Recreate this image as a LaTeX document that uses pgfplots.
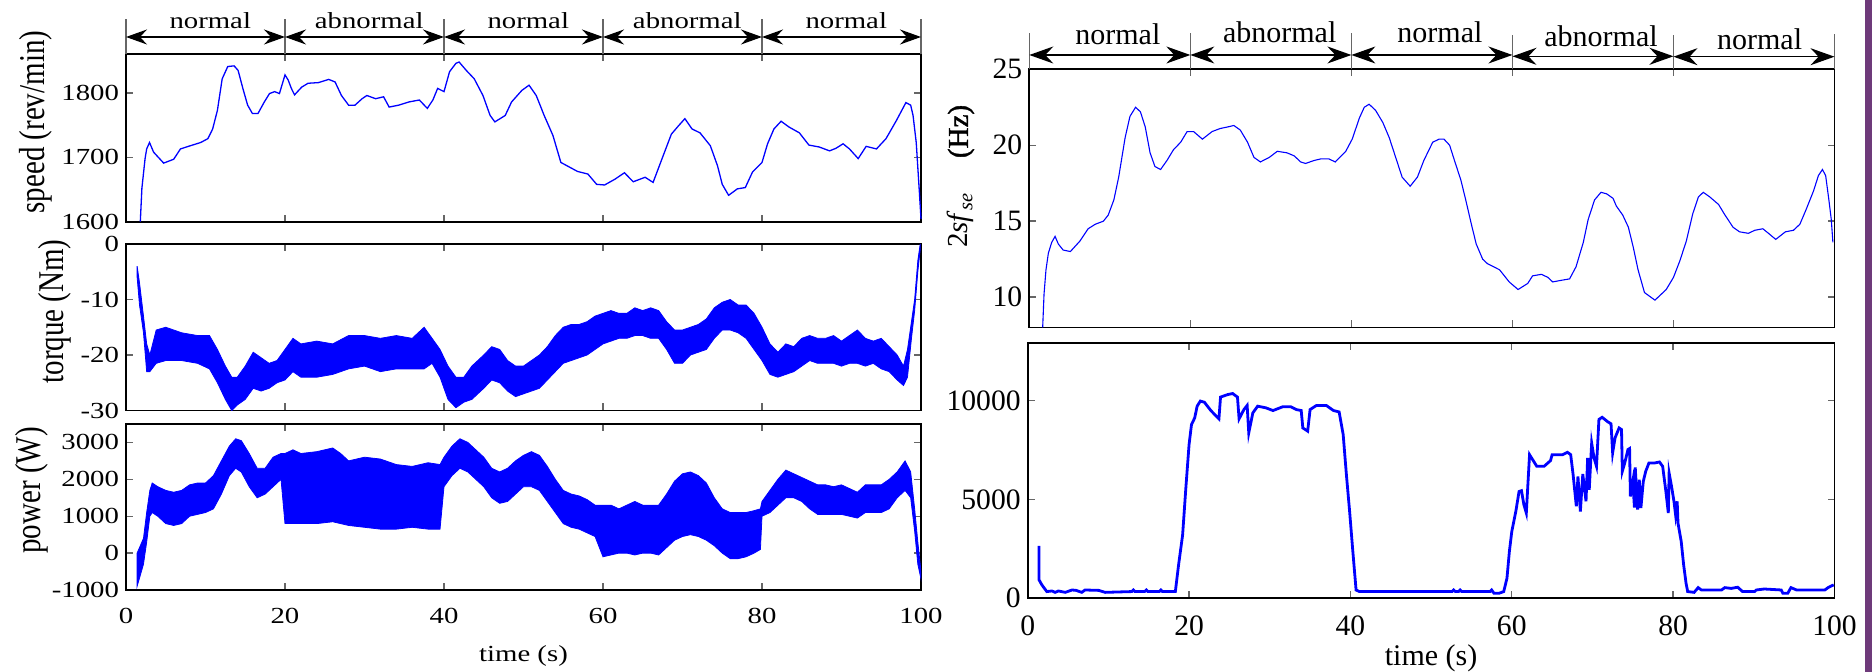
\documentclass[border=0pt]{standalone}
\usepackage{fontspec}
\setmainfont{Liberation Serif}
\newfontfamily\lfont{Liberation Serif}[FakeStretch=1.25]
\newfontfamily\hzfont{Liberation Serif}[FakeBold=1.5]
\usepackage{graphicx}
\usepackage{pgfplots}
\pgfplotsset{compat=1.18}
\usetikzlibrary{arrows.meta}
\definecolor{edgepurple}{RGB}{110,58,122}

\pgfplotsset{
  panel/.style={
    scale only axis, xmin=0, xmax=100, xtick={0,20,40,60,80,100},
    axis line style={line width=0.9pt},
    tick align=inside, major tick length=3.5pt,
    every tick/.append style={black!60, line width=0.7pt},
    /pgf/number format/assume math mode=true,
    /pgf/number format/1000 sep={},
    scaled y ticks=false, scaled x ticks=false,
  },
  leftp/.style={panel, width=397.5pt,
    tick label style={font=\lfont\fontsize{11.5}{13}\selectfont},
    xticklabel style={yshift=-5.5pt},
    ylabel style={font=\fontsize{14.5}{16}\selectfont, anchor=center},
    xlabel style={font=\lfont\fontsize{11.5}{13}\selectfont, at={(axis description cs:0.5,0)}, anchor=center, yshift=-33pt},
  },
  rightp/.style={panel,
    tick label style={font=\fontsize{14.8}{16}\selectfont},
    xticklabel style={yshift=-5pt},
    xlabel style={font=\fontsize{15}{17}\selectfont, at={(axis description cs:0.5,0)}, anchor=center, yshift=-30pt},
  },
}
\tikzset{
  sepl/.style={black!60, line width=0.7pt},
  darL/.style={line width=0.7pt, {Stealth[length=10.5pt,width=7.5pt,inset=3.5pt]}-{Stealth[length=10.5pt,width=7.5pt,inset=3.5pt]}},
  darR/.style={line width=0.7pt, {Stealth[length=12pt,width=8.5pt,inset=4pt]}-{Stealth[length=12pt,width=8.5pt,inset=4pt]}},
}

\begin{document}
\begin{tikzpicture}
\useasboundingbox (0,0) rectangle (937pt,-336pt);
\fill[edgepurple] (932.5pt,0) rectangle (936pt,-336pt);

% ---------------- speed ----------------
\begin{axis}[leftp, at={(63pt,-27.15pt)}, anchor=north west, height=83.7pt,
  ymin=1600, ymax=1860, ytick={1600,1700,1800}, xticklabels={},
  ylabel={\scalebox{1}[1.25]{speed (rev/min)}},
  ylabel style={at={(axis description cs:-0.113,0.595)}}, clip=false]
\addplot[blue, line width=0.65pt] coordinates {
(1.8,1600) (2.0,1652) (2.4,1698) (2.6,1713) (2.96,1723) (3.47,1708) (4.74,1691) (6.0,1697) (6.85,1713) (8.1,1718) (9.4,1723) (10.3,1729) (10.9,1744) (11.5,1773) (12.1,1822) (12.8,1841) (13.6,1842) (14.1,1835) (14.7,1807) (15.3,1781) (15.9,1768) (16.6,1768) (17.4,1786) (18.05,1799) (18.7,1802) (19.3,1799) (20.0,1828) (20.4,1820) (20.8,1807) (21.2,1797) (22.1,1809) (22.9,1815) (24.2,1816) (25.5,1821) (26.3,1817) (27.1,1796) (28.0,1781) (28.8,1781) (29.7,1791) (30.3,1796) (31.4,1791) (32.4,1794) (33.1,1778) (34.3,1781) (35.6,1786) (36.9,1789) (37.9,1776) (38.6,1789) (39.2,1807) (40.0,1802) (40.7,1833) (41.5,1846) (41.9,1848) (42.8,1835) (43.8,1822) (44.9,1796) (45.8,1765) (46.4,1755) (47.7,1765) (48.5,1786) (49.8,1804) (50.7,1812) (51.6,1796) (52.6,1765) (53.7,1734) (54.7,1692) (55.6,1686) (56.8,1678) (58.1,1674) (59.2,1658) (60.2,1657) (61.5,1666) (62.7,1676) (63.8,1662) (65.3,1669) (66.3,1661) (67.4,1697) (68.6,1736) (69.5,1749) (70.3,1760) (71.2,1744) (72.2,1738) (73.5,1718) (74.4,1687) (75.0,1658) (75.8,1641) (76.9,1651) (77.9,1653) (78.8,1677) (80.0,1692) (80.7,1721) (81.5,1744) (82.4,1756) (83.4,1747) (84.7,1738) (85.9,1719) (87.2,1716) (88.5,1710) (89.3,1714) (90.2,1721) (91.0,1713) (92.1,1698) (93.1,1717) (94.4,1713) (95.6,1729) (96.9,1757) (98.1,1785) (98.7,1781) (99.0,1765) (99.4,1723) (99.8,1645) (100,1604)
};
% phase separators, arrows and labels
\draw[sepl] (axis cs:0,1860) -- ([yshift=17.5pt]axis cs:0,1860);
\draw[sepl] (axis cs:20,1860) -- ([yshift=17.5pt]axis cs:20,1860);
\draw[sepl] (axis cs:40,1860) -- ([yshift=17.5pt]axis cs:40,1860);
\draw[sepl] (axis cs:60,1860) -- ([yshift=17.5pt]axis cs:60,1860);
\draw[sepl] (axis cs:80,1860) -- ([yshift=17.5pt]axis cs:80,1860);
\draw[sepl] (axis cs:100,1860) -- ([yshift=17.5pt]axis cs:100,1860);
\draw[darL] ([yshift=8.65pt]axis cs:0,1860) -- ([yshift=8.65pt]axis cs:20,1860);
\draw[darL] ([yshift=8.65pt]axis cs:20,1860) -- ([yshift=8.65pt]axis cs:40,1860);
\draw[darL] ([yshift=8.65pt]axis cs:40,1860) -- ([yshift=8.65pt]axis cs:60,1860);
\draw[darL] ([yshift=8.65pt]axis cs:60,1860) -- ([yshift=8.65pt]axis cs:80,1860);
\draw[darL] ([yshift=8.65pt]axis cs:80,1860) -- ([yshift=8.65pt]axis cs:100,1860);
\node[anchor=base, inner sep=0pt, font=\lfont\fontsize{11.5}{13}\selectfont] at ([yshift=12.85pt]axis cs:10.6,1860) {normal};
\node[anchor=base, inner sep=0pt, font=\lfont\fontsize{11.5}{13}\selectfont] at ([yshift=12.85pt]axis cs:30.6,1860) {abnormal};
\node[anchor=base, inner sep=0pt, font=\lfont\fontsize{11.5}{13}\selectfont] at ([yshift=12.85pt]axis cs:50.6,1860) {normal};
\node[anchor=base, inner sep=0pt, font=\lfont\fontsize{11.5}{13}\selectfont] at ([yshift=12.85pt]axis cs:70.6,1860) {abnormal};
\node[anchor=base, inner sep=0pt, font=\lfont\fontsize{11.5}{13}\selectfont] at ([yshift=12.85pt]axis cs:90.6,1860) {normal};
\end{axis}

% ---------------- torque ----------------
\begin{axis}[leftp, at={(63pt,-122pt)}, anchor=north west, height=83.25pt,
  ymin=-30, ymax=0, ytick={-30,-20,-10,0}, xticklabels={},
  ylabel={\scalebox{1}[1.25]{torque (Nm)}},
  ylabel style={at={(axis description cs:-0.09,0.595)}}]
\addplot[blue, fill=blue, line width=0.4pt] coordinates {
(1.4,-4) (1.7,-7) (2.2,-13) (2.6,-18) (3.0,-20) (3.8,-15.5) (5,-15) (7,-16) (9,-16.5) (10.5,-16.5) (11.5,-19) (12.5,-22) (13.3,-24) (14,-24) (15,-22) (16,-19.5) (17,-20.5) (18,-21.5) (19,-21) (20,-19) (21,-17) (22,-18) (24,-17.5) (26,-18) (28,-16.5) (30,-16.5) (32,-17) (34,-16.5) (36,-17) (37.5,-15) (38.5,-17) (39.5,-19) (40.5,-22) (41.5,-24) (42.5,-24) (43.5,-22) (45,-20) (46,-18.5) (47,-19) (48,-21) (49,-22) (50,-22) (51,-21) (52,-20) (53,-18.5) (54,-16.5) (55,-15) (56,-14.5) (57,-14.5) (58,-14) (59,-13) (60,-12.5) (61,-12) (62,-12.5) (63,-12.5) (64,-11.5) (65,-12) (66,-11.5) (67,-12) (68,-14) (69,-15.5) (70,-15.5) (71,-15) (72,-14.5) (73,-13.5) (74,-11.5) (75,-10.5) (76,-10) (77,-11) (78,-11) (79,-12.5) (80,-15) (81,-18) (82,-19.5) (83,-18) (84,-18.5) (85,-17) (86,-16.5) (87,-17) (88,-17) (89,-16.5) (90,-17.5) (91,-16.5) (92,-15.5) (93,-17) (94,-17.5) (95,-17) (96,-18.5) (97,-20) (97.8,-22) (98.3,-19) (98.8,-14) (99.2,-10) (99.6,-3) (99.9,0)
(99.9,-1) (99.6,-5) (99.2,-12) (98.8,-17) (98.3,-24) (97.8,-25.5) (97,-24.5) (96,-23) (95,-22.5) (94,-21.5) (93,-22) (92,-21.5) (91,-21.5) (90,-22) (89,-21.5) (88,-21.5) (87,-21.5) (86,-21) (85,-22) (84,-23) (83,-23.5) (82,-24) (81,-23.5) (80,-21) (79,-19) (78,-17) (77,-16) (76,-15.5) (75,-15.5) (74,-17) (73,-19) (72,-19.5) (71,-20) (70,-21.5) (69,-21.5) (68,-19) (67,-17) (66,-17) (65,-16.5) (64,-16.5) (63,-17) (62,-17) (61,-17.5) (60,-18) (59,-19) (58,-20) (57,-20.5) (56,-21) (55,-21.5) (54,-23) (53,-24.5) (52,-26) (51,-26.5) (50,-27) (49,-27.5) (48,-26.5) (47,-25) (46,-24.5) (45,-26) (43.5,-28) (42.5,-28.5) (41.5,-29.5) (40.5,-28) (39.5,-24) (38.5,-21.5) (37.5,-22.5) (36,-22.5) (34,-22.5) (32,-23) (30,-22) (28,-22.5) (26,-23.5) (24,-24) (22,-24) (21,-23) (20,-24.5) (19,-25) (18,-26) (17,-26.5) (16,-26) (15,-28) (14,-29) (13.3,-30) (12.5,-28) (11.5,-25) (10.5,-22.5) (9,-21.5) (7,-21) (5,-21) (3.8,-21.5) (3.0,-23) (2.6,-23) (2.2,-16) (1.7,-11) (1.4,-6)
} -- cycle;
\end{axis}

% ---------------- power ----------------
\begin{axis}[leftp, at={(63pt,-212pt)}, anchor=north west, height=83pt,
  ymin=-1000, ymax=3500, ytick={-1000,0,1000,2000,3000},
  ylabel={\scalebox{1}[1.25]{power (W)}},
  ylabel style={at={(axis description cs:-0.118,0.6)}}, xlabel={time (s)}]
\addplot[blue, fill=blue, line width=0.4pt] coordinates {
(1.4,0) (1.8,200) (2.2,400) (2.6,1100) (3.0,1700) (3.3,1900) (4,1800) (5,1700) (6,1650) (7,1700) (8,1850) (9,1900) (10,1900) (11,2100) (12,2500) (13,2900) (13.8,3100) (14.5,3050) (15.5,2700) (16.5,2300) (17.5,2300) (18.5,2600) (19.5,2700) (20,2700) (21,2800) (22,2700) (24,2750) (26,2850) (27,2700) (28,2500) (30,2600) (32,2550) (34,2400) (36,2350) (38,2450) (39.5,2400) (40,2600) (41,2900) (42,3100) (43,3000) (44,2800) (45,2600) (46,2300) (47,2200) (48,2300) (49,2500) (50,2650) (51,2750) (52,2650) (53,2350) (54,2000) (55,1700) (56,1600) (57,1550) (58,1450) (59,1300) (60,1300) (61,1300) (62,1200) (63,1300) (64,1400) (65,1300) (66,1300) (67,1300) (68,1600) (69,1950) (70,2150) (71,2200) (72,2100) (73,1900) (74,1500) (75,1200) (76,1100) (77,1100) (78,1100) (79,1150) (79.8,1200) (80,1400) (81,1700) (82,2000) (83,2250) (84,2150) (85,2050) (86,1950) (87,1850) (88,1850) (89,1800) (90,1850) (91,1750) (92,1650) (93,1850) (94,1850) (95,1850) (96,2000) (97,2200) (98,2500) (98.7,2200) (99.2,1200) (99.6,300) (100,-500)
(100,-700) (99.6,-300) (99.2,600) (98.7,1500) (98,1700) (97,1500) (96,1200) (95,1100) (94,1100) (93,1100) (92,950) (91,1000) (90,1050) (89,1050) (88,1050) (87,1050) (86,1200) (85,1400) (84,1500) (83,1500) (82,1300) (81,1100) (80,1000) (79.8,100) (79,0) (78,-100) (77,-150) (76,-150) (75,0) (74,200) (73,350) (72,450) (71,500) (70,450) (69,350) (68,150) (67,-50) (66,0) (65,0) (64,-50) (63,0) (62,0) (61,-50) (60,-100) (59,450) (58,550) (57,650) (56,700) (55,800) (54,1100) (53,1400) (52,1700) (51,1800) (50,1800) (49,1600) (48,1400) (47,1350) (46,1500) (45,1800) (44,2000) (43,2200) (42,2300) (41,2100) (40,1800) (39.5,650) (38,650) (36,700) (34,650) (32,650) (30,700) (28,750) (27,800) (26,850) (24,800) (22,800) (21,800) (20,800) (19.5,2000) (18.5,1800) (17.5,1600) (16.5,1500) (15.5,1800) (14.5,2200) (13.8,2300) (13,2100) (12,1600) (11,1200) (10,1100) (9,1050) (8,1000) (7,800) (6,750) (5,800) (4,1000) (3.3,1100) (3.0,1000) (2.6,300) (2.2,-300) (1.8,-600) (1.4,-900)
} -- cycle;
\end{axis}

% ---------------- 2 s f_se ----------------
\begin{axis}[rightp, at={(514.65pt,-34.65pt)}, anchor=north west, width=402.6pt, height=129.1pt,
  ymin=8, ymax=25, ytick={10,15,20,25}, xticklabels={},
  ylabel={2\textit{sf}\textsubscript{\itshape se}\hspace{1.2em}{\hzfont (Hz)}},
  ylabel style={font=\fontsize{14.5}{16}\selectfont, anchor=center, at={(axis description cs:-0.085,0.585)}},
  clip=false]
\addplot[blue, line width=0.55pt] coordinates {
(1.66,8.0) (1.83,10.2) (2.07,11.8) (2.37,12.9) (2.78,13.6) (3.2,14.0) (3.6,13.5) (4.2,13.1) (5.1,13.0) (6.3,13.7) (7.3,14.5) (8.2,14.8) (9.2,15.0) (9.8,15.4) (10.5,16.4) (11.1,17.9) (11.5,19.2) (11.9,20.5) (12.5,21.9) (13.2,22.5) (13.8,22.2) (14.4,21.2) (15.0,19.5) (15.6,18.6) (16.3,18.4) (17.1,19.0) (17.9,19.7) (18.8,20.2) (19.6,20.9) (20.4,20.9) (21.5,20.4) (22.7,20.9) (23.7,21.1) (24.6,21.2) (25.4,21.3) (26.2,21.0) (27.1,20.2) (27.9,19.2) (28.7,18.9) (29.8,19.2) (30.8,19.6) (32.0,19.5) (32.9,19.3) (33.7,18.9) (34.3,18.8) (35.4,19.0) (36.2,19.1) (37.2,19.1) (38.0,18.9) (39.3,19.6) (40.1,20.4) (41.0,21.8) (41.6,22.5) (42.2,22.7) (43.0,22.3) (43.9,21.5) (44.7,20.5) (45.5,19.2) (46.3,17.9) (47.3,17.3) (48.2,17.9) (49.0,19.0) (50.1,20.2) (50.9,20.4) (51.5,20.4) (52.2,20.0) (52.8,19.0) (53.6,17.7) (54.2,16.4) (54.9,14.8) (55.5,13.5) (56.3,12.5) (56.9,12.2) (58.4,11.8) (59.6,11.0) (60.7,10.5) (61.9,10.9) (62.5,11.4) (63.6,11.5) (64.4,11.3) (65.0,11.0) (66.0,11.1) (67.1,11.2) (67.9,12.0) (68.8,13.6) (69.4,15.1) (70.2,16.4) (71.0,16.9) (71.7,16.8) (72.5,16.5) (72.9,16.0) (73.7,15.4) (74.4,14.6) (75.0,13.3) (75.6,11.8) (76.4,10.3) (77.7,9.8) (79.1,10.5) (80.0,11.3) (80.8,12.4) (81.6,13.7) (82.4,15.5) (83.1,16.6) (83.7,16.9) (84.5,16.6) (85.6,16.1) (86.4,15.4) (87.4,14.6) (88.2,14.3) (89.3,14.2) (90.1,14.4) (91.1,14.5) (91.8,14.2) (92.7,13.8) (93.9,14.3) (94.9,14.4) (95.7,14.8) (96.5,15.8) (97.4,17.0) (98.0,18.0) (98.5,18.4) (98.9,18.0) (99.3,16.4) (99.6,15.1) (99.8,13.6)
};
\draw[sepl] (axis cs:0,25) -- ([yshift=18pt]axis cs:0,25);
\draw[sepl] (axis cs:20,25) -- ([yshift=18pt]axis cs:20,25);
\draw[sepl] (axis cs:40,25) -- ([yshift=18pt]axis cs:40,25);
\draw[sepl] (axis cs:60,25) -- ([yshift=17pt]axis cs:60,25);
\draw[sepl] (axis cs:80,25) -- ([yshift=17pt]axis cs:80,25);
\draw[sepl] (axis cs:100,25) -- ([yshift=17.5pt]axis cs:100,25);
\draw[darR] ([yshift=7.15pt]axis cs:0,25) -- ([yshift=7.15pt]axis cs:20,25);
\draw[darR] ([yshift=7.15pt]axis cs:20,25) -- ([yshift=7.15pt]axis cs:40,25);
\draw[darR] ([yshift=7.15pt]axis cs:40,25) -- ([yshift=7.15pt]axis cs:60,25);
\draw[darR] ([yshift=6.5pt]axis cs:60,25) -- ([yshift=6.5pt]axis cs:80,25);
\draw[darR] ([yshift=6.3pt]axis cs:80,25) -- ([yshift=6.3pt]axis cs:100,25);
\node[anchor=base, inner sep=0pt, font=\fontsize{15}{17}\selectfont] at ([yshift=12.2pt]axis cs:11,25) {normal};
\node[anchor=base, inner sep=0pt, font=\fontsize{15}{17}\selectfont] at ([yshift=13.3pt]axis cs:31.1,25) {abnormal};
\node[anchor=base, inner sep=0pt, font=\fontsize{15}{17}\selectfont] at ([yshift=13.3pt]axis cs:51,25) {normal};
\node[anchor=base, inner sep=0pt, font=\fontsize{15}{17}\selectfont] at ([yshift=11.3pt]axis cs:71,25) {abnormal};
\node[anchor=base, inner sep=0pt, font=\fontsize{15}{17}\selectfont] at ([yshift=9.7pt]axis cs:90.7,25) {normal};
\end{axis}

% ---------------- bottom right ----------------
\begin{axis}[rightp, at={(513.85pt,-171.35pt)}, anchor=north west, width=403.4pt, height=127.8pt,
  ymin=0, ymax=12920, ytick={0,5000,10000}, xlabel={time (s)}]
\addplot[blue, line width=1.4pt] coordinates {
(1.41,2650) (1.41,930) (1.75,680) (2.37,340) (3.0,370) (3.4,300) (3.8,370) (4.65,300) (5.5,420) (6.0,400) (6.7,300) (7.1,420) (8.8,400) (9.6,300) (12.9,340) (13.1,420) (13.3,340) (14.5,340) (14.7,420) (14.9,340) (16.3,340) (16.5,420) (16.7,340) (18.3,340) (18.7,1690) (19.2,3200) (19.6,5570) (20.0,7770) (20.3,8780) (20.7,9120) (21.0,9710) (21.4,9970) (21.9,9910) (22.7,9490) (23.7,9070) (23.9,10170) (24.8,10300) (25.4,10350) (26.0,10170) (26.2,9070) (26.8,9540) (27.2,9750) (27.4,8360) (27.9,9370) (28.5,9710) (29.5,9630) (30.4,9490) (31.6,9680) (32.6,9680) (33.3,9540) (33.9,9490) (34.1,8610) (34.7,8450) (35.0,9540) (35.8,9750) (37.0,9750) (37.9,9490) (38.6,9420) (39.1,8280) (39.5,6250) (39.9,4390) (40.3,2360) (40.7,420) (41.1,340) (52.6,340) (52.8,420) (53.0,340) (53.4,340) (53.6,420) (53.8,340) (57.3,340) (57.5,420) (57.8,250) (58.4,250) (59.0,340) (59.4,1010) (59.7,2360) (60.0,3380) (60.5,4390) (60.9,5400) (61.2,5440) (61.5,4730) (61.8,4310) (62.2,7260) (63.1,6670) (64.0,6670) (64.8,6960) (65.0,7260) (66.3,7260) (66.9,7380) (67.3,7260) (67.6,6250) (68.0,4650) (68.2,6160) (68.5,4390) (68.8,6280) (69.2,4900) (69.4,7090) (69.6,5490) (69.9,7850) (70.2,7090) (70.5,6670) (70.8,9040) (71.2,9150) (71.9,8920) (72.3,8820) (72.5,7350) (72.8,8110) (73.3,8610) (73.6,8530) (73.7,6420) (74.0,6840) (74.4,7520) (74.6,7570) (74.7,5150) (75.0,5910) (75.2,4590) (75.3,6620) (75.6,4480) (75.8,6000) (76.0,4560) (76.3,5910) (76.6,6420) (77.0,6840) (77.7,6840) (78.3,6890) (78.7,6670) (79.1,5400) (79.4,4310) (79.5,6330) (79.8,5660) (80.1,4900) (80.3,4220) (80.5,4900) (80.6,3800) (81.0,2870) (81.3,1690) (81.6,760) (81.8,340) (82.6,300) (83.1,540) (83.5,420) (86.0,420) (86.4,540) (87.2,500) (88.0,560) (88.6,340) (90.1,340) (90.3,420) (91.3,470) (93.4,420) (93.6,250) (94.2,250) (94.6,540) (95.3,420) (98.8,420) (99.2,540) (99.9,680)
};
\end{axis}
\end{tikzpicture}
\end{document}
